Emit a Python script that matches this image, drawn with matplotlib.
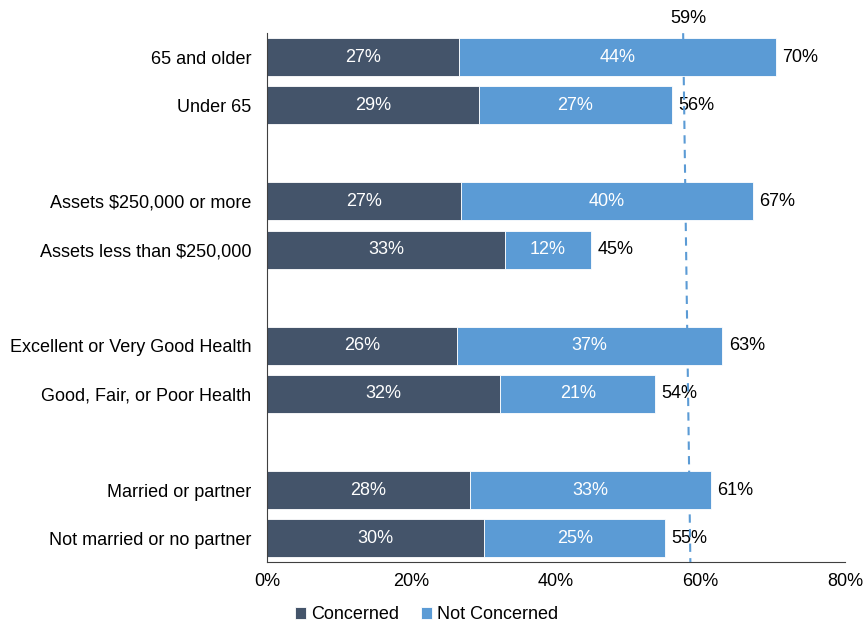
import matplotlib
matplotlib.use("Agg")
import matplotlib.pyplot as plt
import numpy as np

plt.rcParams['font.family'] = ['Liberation Sans', 'DejaVu Sans']

# categories, top to bottom (None = blank gap between groups)
categorias = ["65 and older", "Under 65", None,
              "Assets $250,000 or more", "Assets less than $250,000", None,
              "Excellent or Very Good Health", "Good, Fair, or Poor Health", None,
              "Married or partner", "Not married or no partner"]

concerned = [26.6, 29.4, 26.8, 33.0, 26.3, 32.3, 28.1, 30.1]
not_concerned = [43.8, 26.6, 40.4, 11.8, 36.7, 21.4, 33.3, 25.0]

# media geral (linha tracejada), levemente inclinada como no original
media_topo = 57.6
media_base = 58.6
media_label = "59%"

cor_escura = "#44546A"
cor_clara = "#5B9BD5"
fs = 13

fig = plt.figure(figsize=(8.64, 6.26), dpi=100)
ax = fig.add_axes([0.309, 0.102, 0.669, 0.845])

# posicoes das barras (pulando os espacos vazios)
pos = [i for i, c in enumerate(categorias) if c is not None]
nomes = [c for c in categorias if c is not None]

conc = np.array(concerned)
nao = np.array(not_concerned)
total = conc + nao

b1 = ax.barh(pos, conc, height=0.79, color=cor_escura, edgecolor="white", linewidth=0.6, label="Concerned")
b2 = ax.barh(pos, nao, left=conc, height=0.79, color=cor_clara, edgecolor="white", linewidth=0.6, label="Not Concerned")

for y, c, n, t in zip(pos, conc, nao, total):
    ax.text(c / 2, y, f"{c:.0f}%", ha="center", va="center", color="white", fontsize=fs)
    ax.text(c + n / 2, y, f"{n:.0f}%", ha="center", va="center", color="white", fontsize=fs)
    ax.text(t + 0.9, y, f"{t:.0f}%", ha="left", va="center", color="black", fontsize=fs)

# linha da media
ax.plot([media_topo, media_base], [-0.5, 10.5], color=cor_clara, linestyle=(0, (4, 3)), linewidth=1.5, zorder=3)
ax.text(media_topo + 0.7, -0.62, media_label, ha="center", va="bottom", fontsize=fs, clip_on=False)

ax.set_xlim(0, 80)
ax.set_ylim(10.5, -0.5)
ax.set_xticks([0, 20, 40, 60, 80])
ax.set_xticklabels(["0%", "20%", "40%", "60%", "80%"], fontsize=fs)
ax.set_yticks(pos)
ax.set_yticklabels(nomes, fontsize=fs)
ax.tick_params(axis="x", length=0, pad=8)
ax.tick_params(axis="y", length=0, pad=11.5)

for s in ["top", "right"]:
    ax.spines[s].set_visible(False)
ax.spines["left"].set_color("#404040")
ax.spines["bottom"].set_color("#404040")

fig.legend(handles=[b1, b2], loc="center", bbox_to_anchor=(0.494, 0.018), ncol=2, frameon=False,
           fontsize=fs, handlelength=0.6, handleheight=0.6, handletextpad=0.3, columnspacing=1.2)

fig.savefig("out.png", dpi=100)
